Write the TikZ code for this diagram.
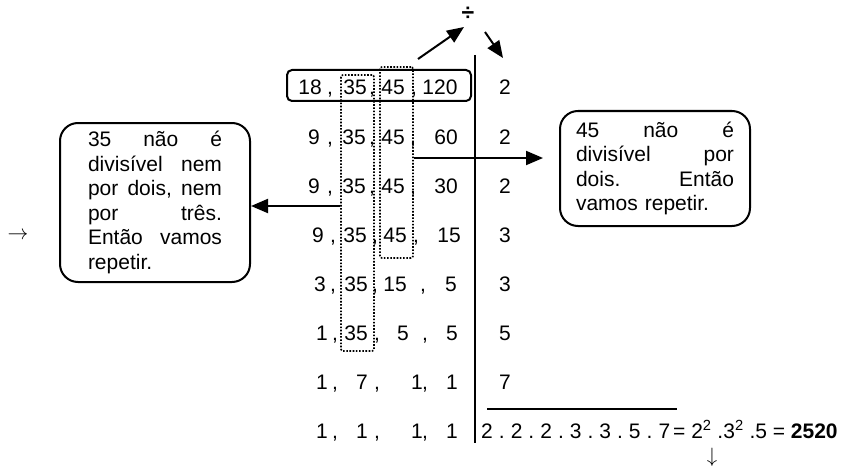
\documentclass[tikz,border=0pt]{standalone}
\usepackage{fontspec}
\setmainfont{Liberation Sans}
\usetikzlibrary{arrows.meta}
\newcommand\cmma{,}
\newcommand\jline[2]{\leavevmode\hbox to #1{#2}}
\begin{document}
\begin{tikzpicture}[x=1pt,y=-1pt,
  tok/.style={inner sep=0pt, anchor=base, font=\fontsize{21}{24}\selectfont},
  roundbox/.style={draw, line width=2pt, rounded corners=18pt, inner ysep=0pt, align=left, font=\fontsize{21}{24.6}\selectfont},
  dotbox/.style={draw, line width=1.6pt, dash pattern=on 1.6pt off 1.6pt, rounded corners=2pt, inner sep=0pt},
  arr/.style={line width=2pt, -{Triangle[length=17pt,width=14pt]}},
  rulel/.style={line width=1.6pt}]
\useasboundingbox (0,0) rectangle (858,468);

% top framed row
\node[draw, rounded corners=5pt, line width=2pt, minimum width=184pt, minimum height=31pt, inner sep=0pt] (top) at (379,85.5) {};

% dotted boxes
\node[dotbox, minimum width=33pt, minimum height=276pt] (box35) at (357.5,213) {};
\node[dotbox, minimum width=33pt, minimum height=191pt] (box45) at (396.5,162.5) {};

% rows
\foreach \x/\t [count=\k] in {310/18,330/\cmma,355/35,372/\cmma,393/45,414/\cmma,440/120}
  \node[tok] (r1c\k) at (\x,95) {\t};
\foreach \x/\t [count=\k] in {314/9,330/\cmma,354/35,372/\cmma,393/45,413/\cmma,446/60}
  \node[tok] (r2c\k) at (\x,144) {\t};
\foreach \x/\t [count=\k] in {314/9,330/\cmma,354/35,372/\cmma,393/45,413/\cmma,446/30}
  \node[tok] (r3c\k) at (\x,193) {\t};
\foreach \x/\t [count=\k] in {318/9,333/\cmma,355/35,375/\cmma,395/45,416/\cmma,449/15}
  \node[tok] (r4c\k) at (\x,242) {\t};
\foreach \x/\t [count=\k] in {320/3,333/\cmma,356/35,375/\cmma,395/15,423/\cmma,451/5}
  \node[tok] (r5c\k) at (\x,291) {\t};
\foreach \x/\t [count=\k] in {322/1,335/\cmma,356/35,377/\cmma,403/5,425/\cmma,452/5}
  \node[tok] (r6c\k) at (\x,340) {\t};
\foreach \x/\t [count=\k] in {322/1,335/\cmma,362/7,377/\cmma,417/1,425/\cmma,452/1}
  \node[tok] (r7c\k) at (\x,389) {\t};
\foreach \x/\t [count=\k] in {322/1,335/\cmma,362/1,377/\cmma,417/1,425/\cmma,452/1}
  \node[tok] (r8c\k) at (\x,438) {\t};

% divisors
\foreach \d [count=\k] in {2,2,2,3,3,5,7}
  \node[tok] (d\k) at (505,{95+49*(\k-1)}) {\d};

% vertical rule and overline
\coordinate (vt) at (475,55);
\coordinate (vb) at (475,443);
\draw[rulel] (vt) -- (vb);
\coordinate (ol1) at (487,409);
\coordinate (ol2) at (677,409);
\draw[rulel] (ol1) -- (ol2);

% product line
\node[tok, anchor=base west] (prod) at (481,438)
  {\jline{189pt}{2\hfill.\hfill2\hfill.\hfill2\hfill.\hfill3\hfill.\hfill3\hfill.\hfill5\hfill.\hfill7}\kern3pt= 2\textsuperscript{2} .3\textsuperscript{2} .5 = \textbf{2520}};

% division sign and arrows
\node[inner sep=0pt, font=\fontsize{23}{24}\selectfont\bfseries] (div) at (468,14) {÷};
\coordinate (u1) at (418,59);
\coordinate (u2) at (464,27);
\coordinate (v1) at (485,32);
\coordinate (v2) at (503,58);
\draw[arr] (u1) -- (u2);
\draw[arr] (v1) -- (v2);

% comment boxes
\node[roundbox, text width=134pt, inner xsep=28pt, minimum height=159pt] (leftbox) at (155,202.5)
  {\jline{134pt}{35\hfill não\hfill é}\\
   \jline{134pt}{divisível\hfill nem}\\
   \jline{134pt}{por\hfill dois,\hfill nem}\\
   \jline{134pt}{por\hfill três.}\\
   \jline{134pt}{Então\hfill vamos}\\
   repetir.};
\node[roundbox, text width=158pt, inner xsep=16pt, minimum height=115pt] (rightbox) at (655,168.5)
  {\jline{158pt}{45\hfill não\hfill é}\\
   \jline{158pt}{divisível\hfill por}\\
   \jline{158pt}{dois.\hfill Então}\\
   vamos repetir.};

\draw[arr] (box35.west |- 0,206) -- (leftbox.east |- 0,206);
\draw[arr, shorten >=16pt] (box45.east |- 0,158) -- (rightbox.west |- 0,158);

% stray arrows
\node[tok, anchor=center] (rarr) at (18,236) {$\rightarrow$};
\node[tok, anchor=center] (darr) at (712,457) {$\downarrow$};
\end{tikzpicture}
\end{document}
